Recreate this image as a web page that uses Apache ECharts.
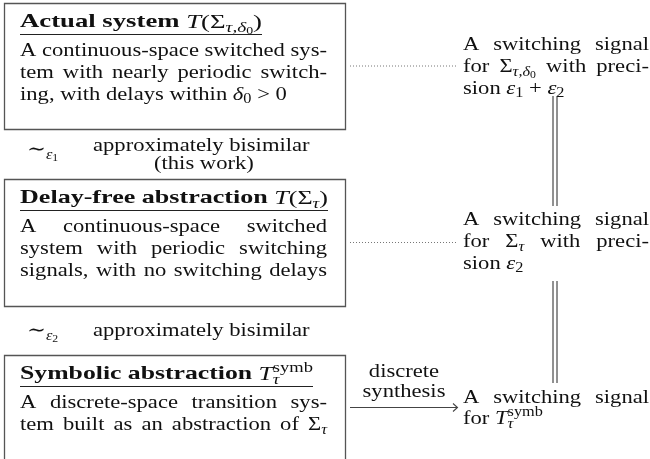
<!DOCTYPE html>
<html><head><meta charset="utf-8">
<script src="https://cdn.jsdelivr.net/npm/echarts@6/dist/echarts.min.js"></script>
<style>html,body{margin:0;padding:0;background:#fff}#c{width:650px;height:459px}</style>
</head><body><div id="c"></div>
<script>
// ---------- content (text of the diagram) ----------
// markup: words separated by spaces; inside a word, pieces separated by '|',
// piece "code:text" (r roman, b bold, i italic, rs/is subscript, rss sub-sub, rsup superscript, '!' = stacked)
const box1Title = "Actual system i:T|r:(Σ|is:τ,δ|rss:0|r:)";
const box1Body  = ["A continuous-space switched sys-", "tem with nearly periodic switch-", "ing, with delays within i:δ|rs:0 > 0"];
const box1Just  = [true, true, false];

const box2Title = "Delay-free abstraction i:T|r:(Σ|is:τ|r:)";
const box2Body  = ["A continuous-space switched", "system with periodic switching", "signals, with no switching delays"];
const box2Just  = [true, true, true];

const box3Title = "Symbolic abstraction i:T|is:τ|!rsup:symb";
const box3Body  = ["A discrete-space transition sys-", "tem built as an abstraction of Σ|is:τ"];
const box3Just  = [true, true];

const titleWidths = [242, 308, 293];

const right1 = ["A switching signal", "for Σ|is:τ,δ|rss:0 with preci-", "sion i:ε|rs:1 + i:ε|rs:2"];
const right1Just = [true, true, false];
const right2 = ["A switching signal", "for Σ|is:τ with preci-", "sion i:ε|rs:2"];
const right2Just = [true, true, false];
const right3 = ["A switching signal", "for i:T|is:τ|!rsup:symb"];
const right3Just = [true, false];

const arrowLabel = ["discrete", "synthesis"];
const rel1 = "r:∼|is:ε|rss:1";
const rel1Text = ["approximately bisimilar", "(this work)"];
const rel2 = "r:∼|is:ε|rss:2";
const rel2Text = ["approximately bisimilar"];

// ---------- styling ----------
const F = 19;
const FAM = "'Liberation Serif', 'DejaVu Serif', serif";
const MID = 0.34;
const INK = '#111';
const STY = {
  r:    {w:'normal', s:'normal', k:1,   dy:0},
  b:    {w:'bold',   s:'normal', k:1,   dy:0},
  i:    {w:'normal', s:'italic', k:1,   dy:0},
  rs:   {w:'normal', s:'normal', k:0.72, dy:0.15},
  is:   {w:'normal', s:'italic', k:0.72, dy:0.2},
  rss:  {w:'normal', s:'normal', k:0.52, dy:0.32},
  rsup: {w:'normal', s:'normal', k:0.72, dy:-0.42}
};
const ctx = document.createElement('canvas').getContext('2d');
function fsize(st){ return Math.round(F*st.k*10)/10; }
function fontOf(st){ return [st.s, st.w, fsize(st)+'px', FAM].join(' '); }
function meas(t, st){ ctx.font = fontOf(st); return ctx.measureText(t).width; }
const SX = 307 / meas("A continuous-space switched sys-", STY.r);

const els = [];
function layoutWord(word, def){
  const parts = word.split('|');
  let cur = 0, prevX = 0; const pieces = [];
  parts.forEach(p => {
    const m = p.match(/^(!?)(rsup|rss|rs|is|r|b|i):(.*)$/);
    let stack = false, code = def, t = p;
    if (m){ stack = m[1]==='!'; code = m[2]; t = m[3]; }
    const st = STY[code];
    const w = meas(t, st)*SX;
    const x = stack ? prevX : cur;
    pieces.push({t, st, x, w});
    prevX = x;
    cur = Math.max(cur, x + w);
  });
  return {pieces, w: cur};
}
function addPiece(t, st, X, base, f){
  els.push({type:'text', x:X, y: base + st.dy*F - MID*st.k*F, scaleX: SX*f, silent:true,
    style:{text:t, fontSize:fsize(st), fontFamily:FAM, fontStyle:st.s, fontWeight:st.w,
      fill:INK, align:'left', verticalAlign:'middle'}});
}
// mode: 'left' natural, 'just' justified, 'fit' scaled to width
function placeLine(str, def, x0, base, targetW, mode){
  const words = str.split(' ').map(w => layoutWord(w, def));
  const sumW = words.reduce((a,b)=>a+b.w, 0);
  const sp = meas(' ', STY[def])*SX;
  let gap = sp, f = 1;
  if (mode === 'just' && words.length > 1){ gap = Math.max(sp*0.6, (targetW - sumW)/(words.length-1)); }
  if (mode === 'fit'){ f = targetW / (sumW + sp*(words.length-1)); gap = sp*f; }
  let x = x0;
  words.forEach(wd => { wd.pieces.forEach(p => addPiece(p.t, p.st, x + p.x*f, base, f)); x += wd.w*f + gap; });
  return x - gap;
}
function box(top, h, title, tw, body, just){
  els.push({type:'rect', shape:{x:4.5, y:top+0.5, width:341, height:h}, silent:true,
    style:{fill:'none', stroke:'#555', lineWidth:1.3}});
  const end = placeLine(title, 'b', 20, top+26, tw, 'fit');
  els.push({type:'line', shape:{x1:20, y1:top+31.5, x2:end, y2:top+31.5}, silent:true,
    style:{stroke:'#222', lineWidth:1.1}});
  body.forEach((ln, k) => placeLine(ln, 'r', 20, top+54+22*k, 307, just[k] ? 'just' : 'left'));
}
box(3, 126, box1Title, titleWidths[0], box1Body, box1Just);
box(179, 127, box2Title, titleWidths[1], box2Body, box2Just);
box(355, 110, box3Title, titleWidths[2], box3Body, box3Just);

right1.forEach((ln,k)=>placeLine(ln,'r',463,51+22*k,186,right1Just[k]?'just':'left'));
right2.forEach((ln,k)=>placeLine(ln,'r',463,226+22*k,186,right2Just[k]?'just':'left'));
right3.forEach((ln,k)=>placeLine(ln,'r',463,404+21*k,186,right3Just[k]?'just':'left'));

// dotted connectors
[66, 242.5].forEach(y => els.push({type:'line', shape:{x1:350, y1:y, x2:457, y2:y}, silent:true,
  style:{stroke:'#777', lineWidth:1, lineDash:[1,2]}}));
// arrow
els.push({type:'line', shape:{x1:350, y1:407.5, x2:457, y2:407.5}, silent:true, style:{stroke:'#444', lineWidth:1.1}});
els.push({type:'polyline', shape:{points:[[453,403.5],[457.5,407.5],[453,411.5]]}, silent:true,
  style:{stroke:'#444', lineWidth:1.1, fill:'none'}});
// arrow label (centred)
arrowLabel.forEach((t,k) => { const w = meas(t, STY.r)*SX; placeLine(t,'r',404 - w/2, 378+20*k, w, 'left'); });
// double lines
[[96,206],[281,383]].forEach(([a,b]) => { [553,557].forEach(x => els.push({type:'line',
  shape:{x1:x, y1:a, x2:x, y2:b}, silent:true, style:{stroke:'#222', lineWidth:1}})); });
// relations
placeLine(rel1, 'r', 27, 156, 0, 'left');
placeLine(rel1Text[0], 'r', 93, 152, 0, 'left');
placeLine(rel1Text[1], 'r', 154, 170, 0, 'left');
placeLine(rel2, 'r', 27, 337, 0, 'left');
placeLine(rel2Text[0], 'r', 93, 337, 0, 'left');

const chart = echarts.init(document.getElementById('c'));
chart.setOption({backgroundColor:'#fff', animation:false, graphic:{elements: els}});
</script></body></html>
